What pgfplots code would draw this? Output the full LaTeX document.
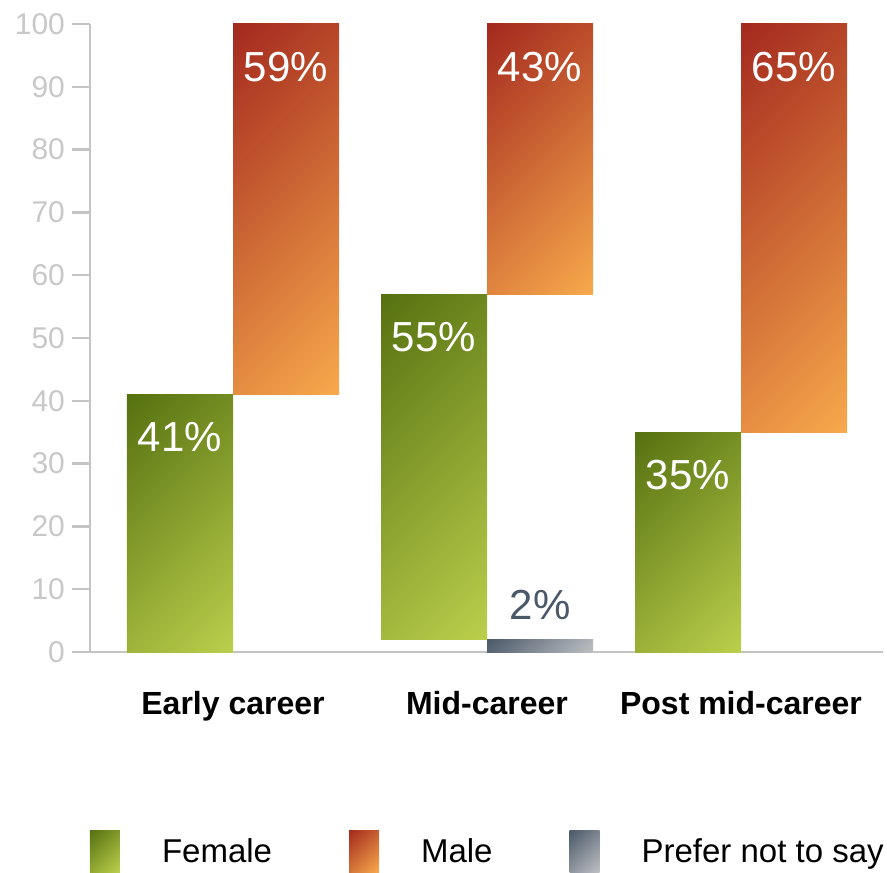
\documentclass[border=0pt]{standalone}
\usepackage{pgfplots}
\pgfplotsset{compat=1.18}
\usepackage{fontspec}
\setmainfont{Liberation Sans}

\definecolor{fdark}{HTML}{557010}
\definecolor{flight}{HTML}{BCD04C}
\definecolor{mdark}{HTML}{A3281E}
\definecolor{mlight}{HTML}{F8AA4C}
\definecolor{pdark}{HTML}{4A5868}
\definecolor{plight}{HTML}{BEC0C4}
\definecolor{axisgray}{HTML}{C4C4C4}
\definecolor{ticktext}{HTML}{C8C8C8}

% linear gradients, dark top left to light bottom right
\pgfdeclareverticalshading{femshade}{100bp}{color(0bp)=(flight); color(14bp)=(flight); color(86bp)=(fdark); color(100bp)=(fdark)}
\pgfdeclareverticalshading{maleshade}{100bp}{color(0bp)=(mlight); color(14bp)=(mlight); color(86bp)=(mdark); color(100bp)=(mdark)}
\pgfdeclareverticalshading{prefshade}{100bp}{color(0bp)=(plight); color(14bp)=(plight); color(86bp)=(pdark); color(100bp)=(pdark)}

% each bar is its own closed plot so that its gradient fits that bar only
% x in px of the reference (bar width 106), y in percent
\pgfplotsset{
  femalestyle/.style={draw=none, shade, shading=femshade, shading angle=45},
  malestyle/.style={draw=none, shade, shading=maleshade, shading angle=45},
  prefstyle/.style={draw=none, shade, shading=prefshade, shading angle=45},
  inlabel/.style={every node near coord/.style={white, font=\fontsize{21}{24}\selectfont,
      anchor=center, xshift=26.5pt, yshift=-21.5pt}},
  toplabel/.style={every node near coord/.style={pdark, font=\fontsize{21}{24}\selectfont,
      anchor=center, xshift=26.5pt, yshift=17pt}},
}

\begin{document}
\begin{tikzpicture}
\begin{axis}[
  scale only axis, width=396.5pt, height=314pt,
  xmin=90, xmax=883, ymin=0, ymax=100,
  axis x line*=bottom, axis y line*=left,
  axis line style={axisgray, line width=1.2pt},
  ytick={0,10,...,100},
  ytick style={axisgray, line width=1.2pt},
  major tick length=9pt, tick align=outside,
  yticklabel style={ticktext, font=\fontsize{15}{17}\selectfont},
  xtick={233,487,741},
  xticklabels={Early career, Mid-career, Post mid-career},
  xtick style={draw=none},
  xticklabel style={font=\bfseries\fontsize{16}{18}\selectfont, yshift=-7pt},
  /pgf/number format/assume math mode=true,
  clip=false,
  legend columns=3,
  legend cell align=left,
  legend image code/.code={\path[#1, draw=none] (0pt,-10pt) rectangle (15pt,11pt);},
  legend style={draw=none, fill=none, inner sep=0pt, outer sep=0pt,
    at={(0,0)}, anchor=north west, yshift=-89pt,
    font=\fontsize{16.5}{18}\selectfont,
    /tikz/every odd column/.append style={column sep=19pt},
    /tikz/every even column/.append style={column sep=36.5pt}},
  point meta=explicit symbolic,
  nodes near coords,
]
\addlegendimage{femalestyle}\addlegendentry{Female}
\addlegendimage{malestyle}\addlegendentry{Male}
\addlegendimage{prefstyle}\addlegendentry{Prefer not to say}

% Early career: female 41, male 59
\addplot[femalestyle, inlabel] coordinates {(127,0) [] (127,41) [41\%] (233,41) [] (233,0) []} -- cycle;
\addplot[malestyle, inlabel] coordinates {(233,41) [] (233,100) [59\%] (339,100) [] (339,41) []} -- cycle;
% Mid-career: prefer not to say 2, female 55, male 43
\addplot[prefstyle, toplabel] coordinates {(487,0) [] (487,2) [2\%] (593,2) [] (593,0) []} -- cycle;
\addplot[femalestyle, inlabel] coordinates {(381,2) [] (381,57) [55\%] (487,57) [] (487,2) []} -- cycle;
\addplot[malestyle, inlabel] coordinates {(487,57) [] (487,100) [43\%] (593,100) [] (593,57) []} -- cycle;
% Post mid-career: female 35, male 65
\addplot[femalestyle, inlabel] coordinates {(635,0) [] (635,35) [35\%] (741,35) [] (741,0) []} -- cycle;
\addplot[malestyle, inlabel] coordinates {(741,35) [] (741,100) [65\%] (847,100) [] (847,35) []} -- cycle;

\coordinate (BL) at (rel axis cs:0,0);
\end{axis}
\pgfresetboundingbox
\path (BL) ++(-45pt,-110pt) rectangle ++(443.5pt,436pt);
\end{tikzpicture}
\end{document}
